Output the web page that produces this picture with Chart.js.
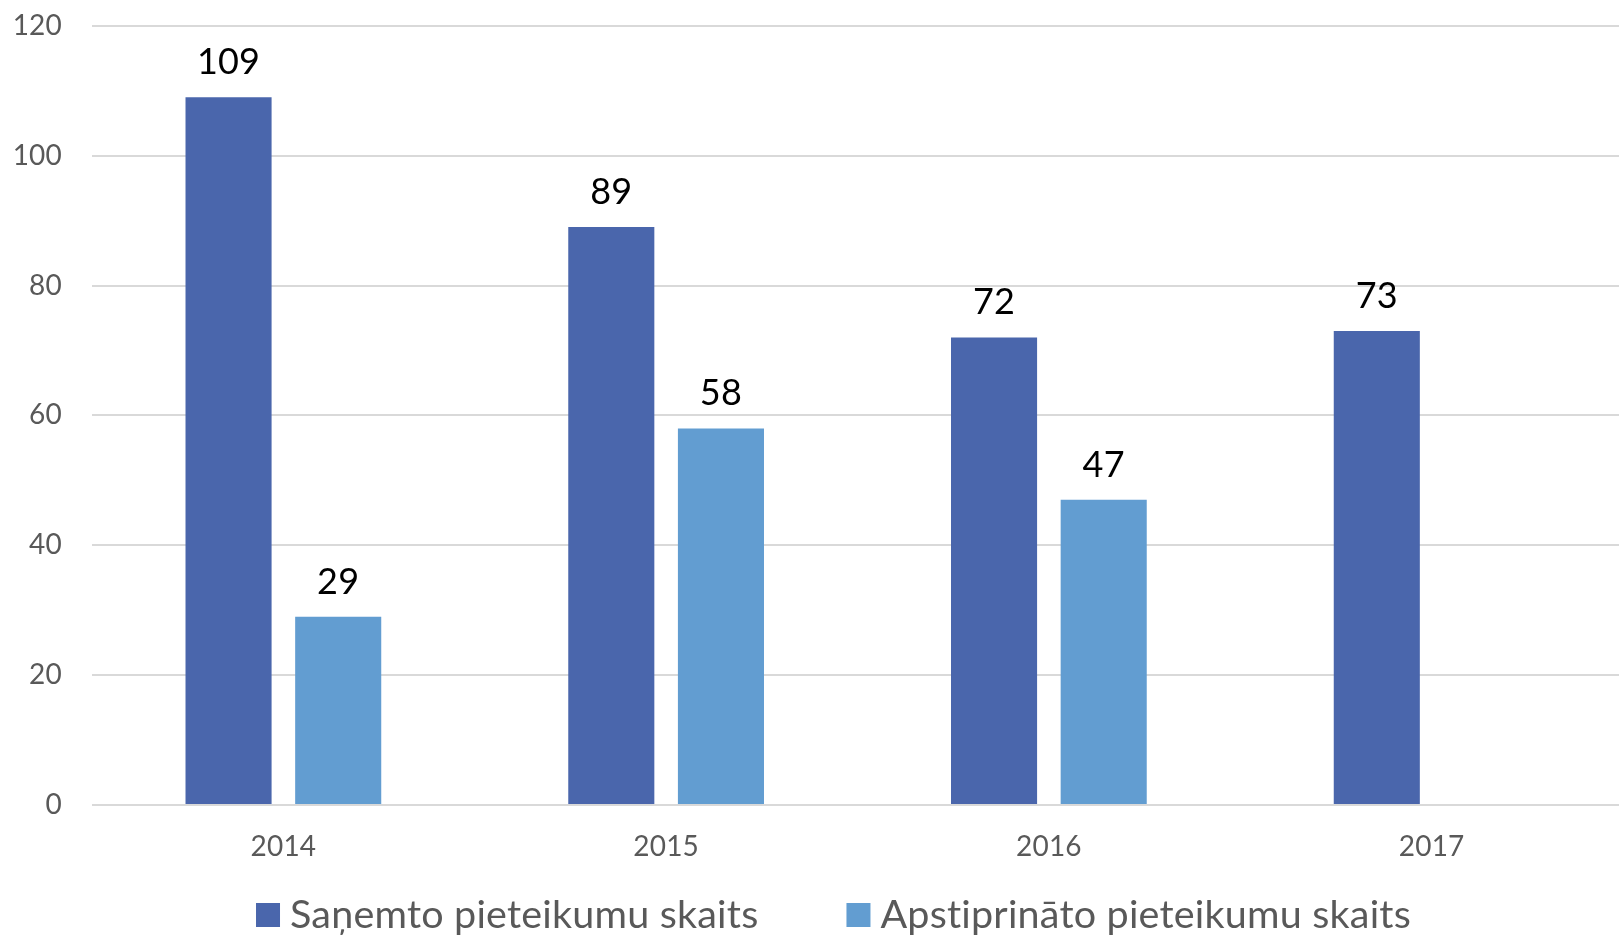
<!DOCTYPE html>
<html>
<head>
<meta charset="utf-8">
<script src="https://cdn.jsdelivr.net/npm/chart.js@4.4.1/dist/chart.umd.min.js"></script>
<style>
html,body{margin:0;padding:0;background:#fff;overflow:hidden;width:1619px;height:936px;}
#wrap{position:absolute;left:0;top:-21px;width:1623px;height:990px;}
</style>
</head>
<body>
<div id="wrap"><canvas id="c" width="1623" height="990"></canvas></div>
<script>
const categories = ['2014', '2015', '2016', '2017'];
const receivedLabel = 'Saņemto pieteikumu skaits';
const approvedLabel = 'Apstiprināto pieteikumu skaits';
const receivedValues = [109, 89, 72, 73];
const approvedValues = [29, 58, 47, null];
const yTicks = [0, 20, 40, 60, 80, 100, 120];

const FONT = 'Lato, "Open Sans", sans-serif';

const noLigatures = {
  id: 'noLigatures',
  beforeLayout(chart) { chart.ctx.letterSpacing = '0.2px'; },
  beforeDraw(chart) { chart.ctx.letterSpacing = '0.2px'; }
};

const valueLabels = {
  id: 'valueLabels',
  afterDatasetsDraw(chart) {
    const ctx = chart.ctx;
    ctx.save();
    ctx.font = '36px ' + FONT;
    ctx.fillStyle = '#000000';
    ctx.textAlign = 'center';
    ctx.textBaseline = 'alphabetic';
    chart.data.datasets.forEach((ds, i) => {
      const meta = chart.getDatasetMeta(i);
      meta.data.forEach((bar, j) => {
        const v = ds.data[j];
        if (v === null || v === undefined) return;
        ctx.fillText(String(v), bar.x, bar.y - 23);
      });
    });
    ctx.restore();
  }
};

// Bottom legend drawn from the datasets' labels and colours
const bottomLegend = {
  id: 'bottomLegend',
  afterDraw(chart) {
    const ctx = chart.ctx;
    ctx.save();
    ctx.font = '39.5px ' + FONT;
    ctx.textBaseline = 'middle';
    ctx.textAlign = 'left';
    const box = 24, textGap = 10, itemGap = 88;
    const items = chart.data.datasets.map(ds => ({ text: ds.label, color: ds.backgroundColor,
      w: ctx.measureText(ds.label).width }));
    let total = 0;
    items.forEach((it, i) => { total += box + textGap + it.w + (i < items.length - 1 ? itemGap : 0); });
    let x = chart.width / 2 + 22 - total / 2;
    const yc = chart.chartArea.bottom + 110;
    items.forEach(it => {
      ctx.fillStyle = it.color;
      ctx.fillRect(x, yc - box / 2, box, box);
      x += box + textGap;
      ctx.fillStyle = '#595959';
      ctx.fillText(it.text, x, yc);
      x += it.w + itemGap;
    });
    ctx.restore();
  }
};

new Chart(document.getElementById('c'), {
  type: 'bar',
  data: {
    labels: categories,
    datasets: [
      { label: receivedLabel, data: receivedValues, backgroundColor: '#4A66AC', borderWidth: 0,
        categoryPercentage: 0.573, barPercentage: 0.785 },
      { label: approvedLabel, data: approvedValues, backgroundColor: '#629DD1', borderWidth: 0,
        categoryPercentage: 0.573, barPercentage: 0.785 }
    ]
  },
  options: {
    responsive: false,
    animation: false,
    layout: { padding: { top: 12, right: 0, left: 0, bottom: 104 } },
    plugins: {
      legend: { display: false },
      tooltip: { enabled: false }
    },
    scales: {
      x: {
        grid: { display: false, drawTicks: false },
        border: { display: false },
        ticks: { font: { family: FONT, size: 28 }, color: '#595959', padding: 25 },
        afterFit(axis) { axis.height = 60; }
      },
      y: {
        min: 0, max: 120,
        afterBuildTicks(axis) { axis.ticks = yTicks.map(v => ({ value: v })); },
        grid: { color: '#D9D9D9', lineWidth: 2, drawTicks: false },
        border: { display: false },
        ticks: { font: { family: FONT, size: 28 }, color: '#595959', padding: 30 },
        afterFit(axis) { axis.width = 92; }
      }
    }
  },
  plugins: [noLigatures, valueLabels, bottomLegend]
});
</script>
</body>
</html>
